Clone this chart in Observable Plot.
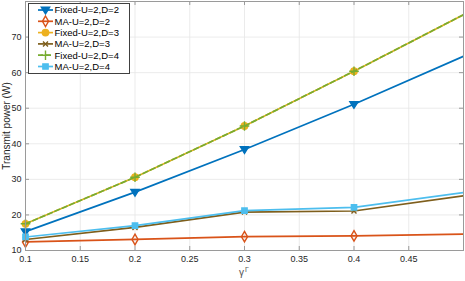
<!DOCTYPE html>
<html>
<head>
<meta charset="utf-8">
<script src="https://cdn.jsdelivr.net/npm/d3@7"></script>
<script src="https://cdn.jsdelivr.net/npm/@observablehq/plot@0.6"></script>
<style>
  html, body { margin: 0; padding: 0; background: #fff; }
  #wrap { position: relative; width: 465px; height: 281px; font-family: "Liberation Sans", Arial, sans-serif; }
  #legend { position: absolute; left: 28px; top: 3px; }
</style>
</head>
<body>
<div id="wrap"></div>
<script>
// ---- data ----
const gammaValues = [0.1, 0.2, 0.3, 0.4, 0.5];
const fixedD2 = [15.3, 26.4, 38.4, 51.1, 64.6];
const maD2    = [12.4, 13.1, 13.9, 14.1, 14.6];
const fixedD3 = [17.5, 30.6, 45.0, 60.4, 76.3];
const maD3    = [13.1, 16.5, 20.8, 21.1, 25.4];
const fixedD4 = [17.5, 30.6, 45.0, 60.4, 76.3];
const maD4    = [13.8, 17.0, 21.2, 22.1, 26.3];
const seriesNames = ["Fixed-U=2,D=2", "MA-U=2,D=2", "Fixed-U=2,D=3", "MA-U=2,D=3", "Fixed-U=2,D=4", "MA-U=2,D=4"];
const xTickValues = [0.1, 0.15, 0.2, 0.25, 0.3, 0.35, 0.4, 0.45, 0.5];
const xTickLabels = [0.1, 0.15, 0.2, 0.25, 0.3, 0.35, 0.4, 0.45];
const yTickValues = [10, 20, 30, 40, 50, 60, 70, 80];
const yTickLabels = [10, 20, 30, 40, 50, 60, 70];

// ---- styles ----
const triDown = {
  draw(ctx, size) {
    const r = Math.sqrt(size / Math.PI);
    ctx.moveTo(0, r * 1.1);
    ctx.lineTo(-r * 1.15, -r * 0.75);
    ctx.lineTo(r * 1.15, -r * 0.75);
    ctx.closePath();
  }
};
const styles = [
  {color: "#0072BD", symbol: triDown, fill: "#0072BD", r: 3.6, dash: null},
  {color: "#D95319", symbol: "diamond", fill: "none", r: 3.2, dash: null},
  {color: "#EDB120", symbol: "circle", fill: "#EDB120", r: 3.2, dash: null},
  {color: "#7E5E1C", symbol: "times", fill: "none", r: 2.4, dash: null},
  {color: "#77AC30", symbol: "plus", fill: "none", r: 3.2, dash: "5,3"},
  {color: "#4DBEEE", symbol: "square", fill: "#4DBEEE", r: 3.0, dash: null}
];
const allSeries = [fixedD2, maD2, fixedD3, maD3, fixedD4, maD4];
const rows = allSeries.map((vals, i) => gammaValues.map((g, j) => ({g, v: vals[j], s: i})));

const W = 465, H = 281, mL = 25, mR = 2, mT = 1, mB = 31;
const innerH = H - mT - mB, innerW = W - mL - mR;
const axisColor = "#262626";
const frameColor = "#9a9a9a";

const marks = [
  Plot.ruleX(xTickValues, {x: d => d, stroke: "#e6e6e6", strokeWidth: 0.8}),
  Plot.ruleY(yTickValues, {y: d => d, stroke: "#e6e6e6", strokeWidth: 0.8})
];
rows.forEach((data, i) => {
  const st = styles[i];
  marks.push(Plot.line(data, {x: "g", y: "v", stroke: st.color, strokeWidth: 1.7, strokeDasharray: st.dash, clip: true}));
  marks.push(Plot.dot(data.filter(d => d.g < 0.5), {x: "g", y: "v", symbol: st.symbol, r: st.r, stroke: st.color, fill: st.fill, strokeWidth: 1.4}));
});
marks.push(
  Plot.frame({stroke: frameColor, strokeWidth: 1}),
  Plot.tickX(xTickValues, {x: d => d, insetTop: innerH - 4, stroke: frameColor}),
  Plot.tickX(xTickValues, {x: d => d, insetBottom: innerH - 4, stroke: frameColor}),
  Plot.tickY(yTickValues, {y: d => d, insetRight: innerW - 4, stroke: frameColor}),
  Plot.tickY(yTickValues, {y: d => d, insetLeft: innerW - 4, stroke: frameColor}),
  Plot.axisX(xTickLabels, {tickSize: 0, tickPadding: 5, fontSize: 9, color: axisColor, label: null, tickFormat: d => String(d)}),
  Plot.axisY(yTickLabels, {tickSize: 0, tickPadding: 4, fontSize: 9, color: axisColor, label: null, tickFormat: d => String(d)}),
  Plot.text(["Transmit power (W)"], {frameAnchor: "left", textAnchor: "middle", rotate: -90, dx: -19, fontSize: 10, fill: axisColor}),
  Plot.text(["γ"], {frameAnchor: "bottom", textAnchor: "middle", dx: -3, dy: 25, fontSize: 10, fill: "#555"}),
  Plot.text(["Γ"], {frameAnchor: "bottom", textAnchor: "middle", dx: 2.5, dy: 21, fontSize: 7, fill: "#555"})
);

const chart = Plot.plot({
  width: W, height: H,
  marginLeft: mL, marginRight: mR, marginTop: mT, marginBottom: mB,
  style: {fontFamily: "'Liberation Sans', Arial, sans-serif", background: "#fff", overflow: "visible"},
  x: {domain: [0.1, 0.5]},
  y: {domain: [10, 80]},
  marks
});
const wrap = document.getElementById("wrap");
wrap.appendChild(chart);

// ---- legend overlay ----
const lw = 101, lh = 70, rowH = 11.3, y0 = 7;
const lg = d3.select(wrap).append("svg").attr("id", "legend").attr("width", lw + 1).attr("height", lh + 1);
lg.append("rect").attr("x", 0.5).attr("y", 0.5).attr("width", lw).attr("height", lh)
  .attr("fill", "#fff").attr("stroke", "#404040").attr("stroke-width", 1);
const symMap = {circle: d3.symbolCircle, diamond: d3.symbolDiamond, times: d3.symbolTimes, plus: d3.symbolPlus, square: d3.symbolSquare};
seriesNames.forEach((name, i) => {
  const st = styles[i];
  const y = y0 + i * rowH;
  lg.append("line").attr("x1", 10).attr("x2", 25).attr("y1", y).attr("y2", y)
    .attr("stroke", st.color).attr("stroke-width", 1.7).attr("stroke-dasharray", st.dash);
  const t = typeof st.symbol === "string" ? symMap[st.symbol] : st.symbol;
  lg.append("path").attr("d", d3.symbol(t, Math.PI * st.r * st.r)()).attr("transform", `translate(17.5,${y})`)
    .attr("fill", st.fill).attr("stroke", st.color).attr("stroke-width", 1.4);
  lg.append("text").attr("x", 26.5).attr("y", y).attr("dy", "0.35em").attr("font-size", 9.5)
    .attr("fill", "#000").attr("font-family", "'Liberation Sans', Arial, sans-serif").text(name);
});
</script>
</body>
</html>
